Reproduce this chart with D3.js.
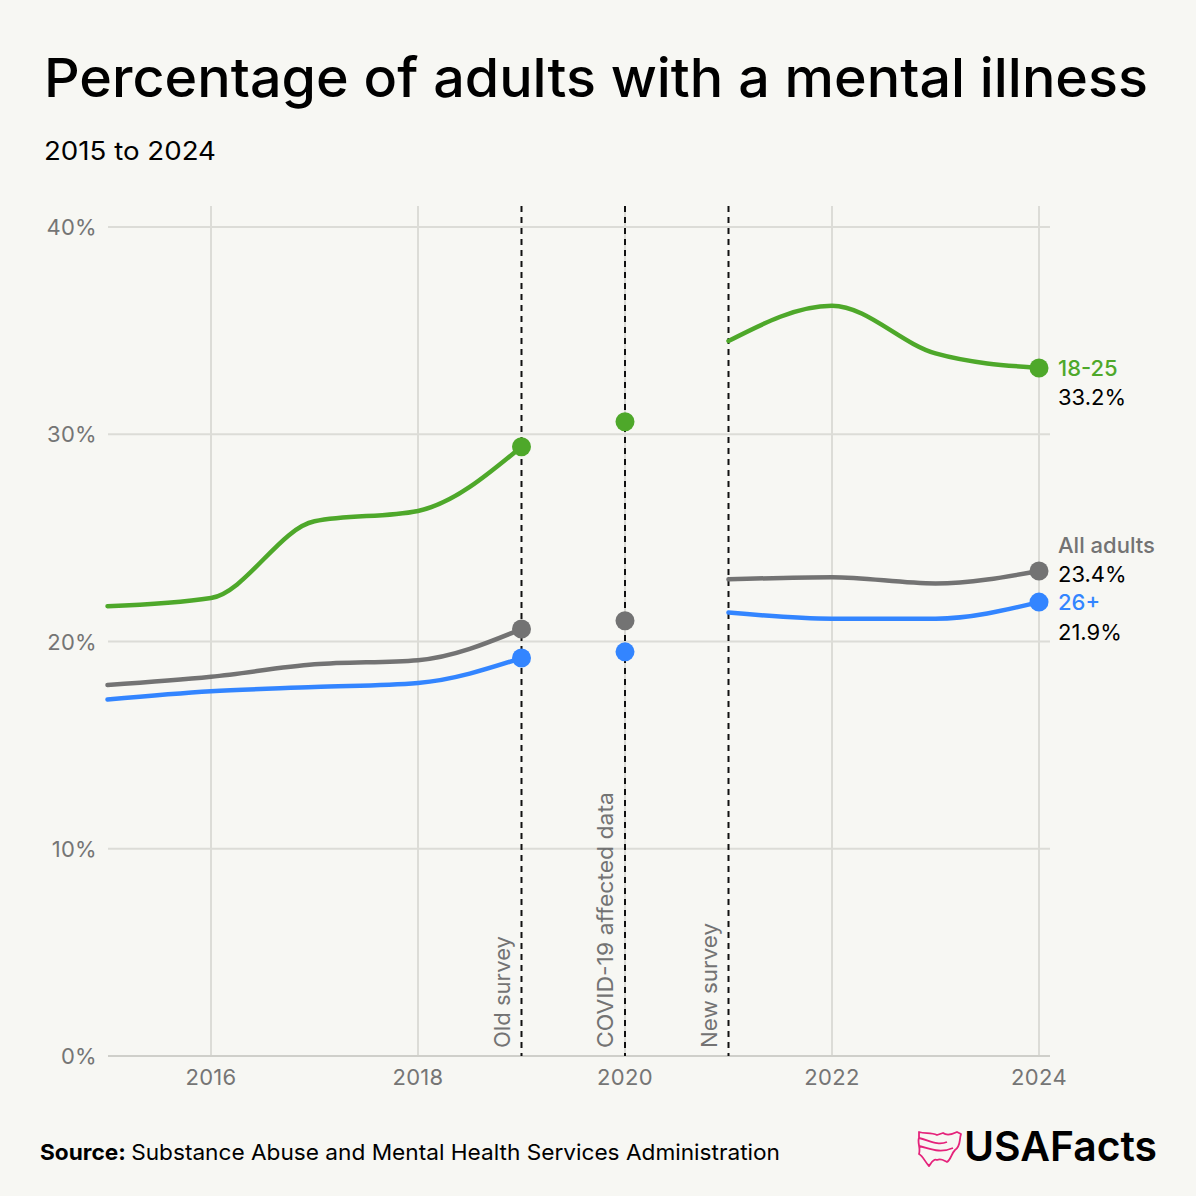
<!DOCTYPE html>
<html>
<head>
<meta charset="utf-8">
<script src="https://cdn.jsdelivr.net/npm/d3@7"></script>
<style>
  body { margin: 0; background: #f7f7f3; }
  svg { display: block; font-family: Inter, "Noto Sans", sans-serif; }
</style>
</head>
<body>
<svg id="chart"></svg>
<script>
const years = [2015, 2016, 2017, 2018, 2019, 2020, 2021, 2022, 2023, 2024];
const young = [21.7, 22.1, 25.8, 26.3, 29.4, 30.6, 34.5, 36.2, 33.9, 33.2];
const allAdults = [17.9, 18.3, 18.9, 19.1, 20.6, 21.0, 23.0, 23.1, 22.8, 23.4];
const older = [17.2, 17.6, 17.8, 18.0, 19.2, 19.5, 21.4, 21.1, 21.1, 21.9];
const yTicks = [0, 10, 20, 30, 40];
const xTicks = [2016, 2018, 2020, 2022, 2024];
const breaks = [2019, 2020, 2021];
const breakLabels = ['Old survey', 'COVID-19 affected data', 'New survey'];
const breakLabelWidths = [112, 256, 125];

const series = [
  { name: '18-25', values: young, color: '#4ea82a', labelY: 368, valY: 397 },
  { name: 'All adults', values: allAdults, color: '#737373', labelY: 545, valY: 574 },
  { name: '26+', values: older, color: '#3385ff', labelY: 602, valY: 632 }
];

const W = 1196, H = 1196;
const svg = d3.select('#chart').attr('width', W).attr('height', H);

svg.append('rect').attr('width', W).attr('height', H).attr('fill', '#f7f7f3');

const x = d3.scaleLinear().domain([2015, 2024]).range([107.5, 1039]);
const y = d3.scaleLinear().domain([0, 40]).range([1056, 227]);

// title
svg.append('text')
  .attr('x', 44).attr('y', 97)
  .attr('font-size', 54).attr('font-weight', 500)
  .attr('textLength', 1104).attr('lengthAdjust', 'spacingAndGlyphs')
  .attr('fill', '#000')
  .text('Percentage of adults with a mental illness');

svg.append('text')
  .attr('x', 44).attr('y', 160)
  .attr('font-size', 25)
  .attr('textLength', 172).attr('lengthAdjust', 'spacingAndGlyphs')
  .attr('fill', '#000')
  .text('2015 to 2024');

// grid
const grid = svg.append('g');
grid.selectAll('.hg')
  .data(yTicks.filter(d => d > 0))
  .join('line')
    .attr('x1', 108).attr('x2', 1050)
    .attr('y1', d => y(d)).attr('y2', d => y(d))
    .attr('stroke', '#dcdcd7').attr('stroke-width', 2);

grid.selectAll('.vg')
  .data(xTicks)
  .join('line')
    .attr('x1', d => x(d)).attr('x2', d => x(d))
    .attr('y1', 206).attr('y2', 1056)
    .attr('stroke', '#dcdcd7').attr('stroke-width', 2);

svg.append('line')
  .attr('x1', 108).attr('x2', 1050)
  .attr('y1', y(0)).attr('y2', y(0))
  .attr('stroke', '#cfcfca').attr('stroke-width', 2);

// axis labels
svg.append('g').selectAll('text')
  .data(yTicks)
  .join('text')
    .attr('x', 97).attr('y', d => y(d) + 8)
    .attr('text-anchor', 'end')
    .attr('font-size', 22)
    .attr('letter-spacing', 0.3)
    .attr('fill', '#757575')
    .text(d => d + '%');

svg.append('g').selectAll('text')
  .data(xTicks)
  .join('text')
    .attr('x', d => x(d)).attr('y', 1085)
    .attr('text-anchor', 'middle')
    .attr('font-size', 22)
    .attr('letter-spacing', 0.3)
    .attr('fill', '#757575')
    .text(d => d);

// break lines
svg.append('g').selectAll('line')
  .data(breaks)
  .join('line')
    .attr('x1', d => x(d)).attr('x2', d => x(d))
    .attr('y1', 206).attr('y2', 1056)
    .attr('stroke', '#111').attr('stroke-width', 2)
    .attr('stroke-dasharray', '6,5');

svg.append('g').selectAll('text')
  .data(breaks)
  .join('text')
    .attr('transform', d => `translate(${x(d) - 12},1048) rotate(-90)`)
    .attr('font-size', 22)
    .attr('textLength', (d, i) => breakLabelWidths[i])
    .attr('lengthAdjust', 'spacingAndGlyphs')
    .attr('fill', '#737373')
    .text((d, i) => breakLabels[i]);

// lines
const line = d3.line()
  .x(d => x(d[0]))
  .y(d => y(d[1]))
  .curve(d3.curveMonotoneX);

const lines = svg.append('g');
series.forEach(s => {
  const pts = years.map((yr, i) => [yr, s.values[i]]);
  const oldPart = pts.filter(p => p[0] <= 2019);
  const newPart = pts.filter(p => p[0] >= 2021);
  [oldPart, newPart].forEach(part => {
    lines.append('path')
      .datum(part)
      .attr('d', line)
      .attr('fill', 'none')
      .attr('stroke', s.color)
      .attr('stroke-width', 4.5)
      .attr('stroke-linecap', 'round');
  });
  lines.selectAll(null)
    .data(pts.filter(p => p[0] === 2019 || p[0] === 2020 || p[0] === 2024))
    .join('circle')
      .attr('cx', d => x(d[0]))
      .attr('cy', d => y(d[1]))
      .attr('r', 9.5)
      .attr('fill', s.color);

  const last = s.values[s.values.length - 1];
  svg.append('text')
    .attr('x', 1058).attr('y', s.labelY + 8)
    .attr('font-size', 22).attr('font-weight', 500)
    .attr('fill', s.color)
    .text(s.name);
  svg.append('text')
    .attr('x', 1058).attr('y', s.valY + 8)
    .attr('font-size', 22)
    .attr('fill', '#000')
    .text(last.toFixed(1) + '%');
});

// footer
const src = svg.append('text')
  .attr('x', 40).attr('y', 1160)
  .attr('font-size', 22)
  .attr('textLength', 740).attr('lengthAdjust', 'spacingAndGlyphs')
  .attr('fill', '#000');
src.append('tspan').attr('font-weight', 700).text('Source: ');
src.append('tspan').text('Substance Abuse and Mental Health Services Administration');

// logo
const logo = svg.append('g').attr('transform', 'translate(917,1130)');
logo.append('path')
  .attr('d', 'M2,2 C8,4 14,2 20,5 L26,3 C30,6 36,4 40,2 L44,4 C42,10 44,16 38,20 C34,24 34,30 30,32 C26,30 24,28 20,30 C16,28 14,34 12,36 C8,32 6,26 2,24 C4,18 0,12 2,8 Z M2,8 C12,10 20,16 30,12 M2,16 C12,18 22,24 36,18')
  .attr('fill', 'none')
  .attr('stroke', '#e5237b')
  .attr('stroke-width', 1.8)
  .attr('stroke-linejoin', 'round');
svg.append('text')
  .attr('x', 964).attr('y', 1161)
  .attr('font-size', 41).attr('font-weight', 600)
  .attr('textLength', 193).attr('lengthAdjust', 'spacingAndGlyphs')
  .attr('fill', '#000')
  .text('USAFacts');
</script>
</body>
</html>
